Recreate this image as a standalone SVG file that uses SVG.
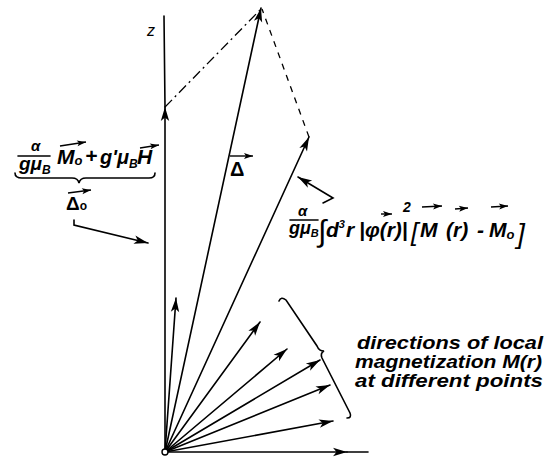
<svg xmlns="http://www.w3.org/2000/svg" width="549" height="457" viewBox="0 0 549 457">
<style>
.ln{stroke:#000;stroke-width:1.6;fill:none;stroke-linecap:round}
.th{stroke:#000;stroke-width:1.3;fill:none}
.t{font-family:"Liberation Sans",Arial,sans-serif;font-weight:bold;font-style:italic;fill:#000}
.up{font-style:normal}
.nw{font-weight:normal}
.sm{stroke:#000;stroke-width:1.4;fill:none}
</style>
<defs>
<marker id="ah" viewBox="-15 -5 16 10" refX="0" refY="0" markerWidth="16" markerHeight="10" markerUnits="userSpaceOnUse" orient="auto">
<path d="M0,0 L-14,-4.2 L-10.5,0 L-14,4.2 Z" fill="#000"/>
</marker>
<marker id="ahs" viewBox="-10 -4 11 8" refX="0" refY="0" markerWidth="11" markerHeight="8" markerUnits="userSpaceOnUse" orient="auto">
<path d="M0,0 L-9,-3 L-7,0 L-9,3 Z" fill="#000"/>
</marker>
</defs>
<rect width="549" height="457" fill="#fff"/>
<g id="connectors">
<line class="ln" x1="165" y1="452" x2="165" y2="107" marker-end="url(#ah)"/>
<line class="ln" x1="165" y1="107" x2="164" y2="16"/>
<line class="ln" x1="165" y1="452" x2="347" y2="452" marker-end="url(#ah)"/>
<line class="ln" x1="347" y1="452" x2="368" y2="452"/>
<line class="ln" x1="165" y1="452" x2="261" y2="8" marker-end="url(#ah)"/>
<line class="ln" x1="165" y1="452" x2="309" y2="137" marker-end="url(#ah)"/>
<line class="th" x1="165" y1="107" x2="261" y2="9" stroke-dasharray="10 4 2 4"/>
<line class="th" x1="309" y1="137" x2="262" y2="9" stroke-dasharray="6 6"/>
<line class="ln" x1="165" y1="452" x2="176" y2="298" marker-end="url(#ah)"/>
<line class="ln" x1="165" y1="452" x2="260" y2="322" marker-end="url(#ah)"/>
<line class="ln" x1="165" y1="452" x2="287" y2="349" marker-end="url(#ah)"/>
<line class="ln" x1="165" y1="452" x2="320" y2="360" marker-end="url(#ah)"/>
<line class="ln" x1="165" y1="452" x2="330" y2="385" marker-end="url(#ah)"/>
<line class="ln" x1="165" y1="452" x2="333" y2="421" marker-end="url(#ah)"/>
<polyline class="ln" points="74,220 74,225 148,243" marker-end="url(#ah)"/>
<polyline class="ln" points="323,203 333,198 298,177" marker-end="url(#ah)"/>
</g>
<g id="origin"><circle cx="165" cy="452" r="3" fill="#fff" stroke="#000" stroke-width="1.4"/></g>
<g id="z-label"><text class="t nw" x="147" y="36" font-size="16">z</text></g>
<g id="delta-label">
<text class="t up" x="230" y="176" font-size="20">Δ</text>
<line class="sm" x1="230" y1="156" x2="253" y2="156" marker-end="url(#ahs)"/>
</g>
<g id="brace-right">
<path class="ln" d="M279,301 Q281,296 286,300 L317,346 Q319,351 324,351 Q320,353 322,358 L350,413 Q352,418 347,418"/>
</g>
<g id="label-local">
<text class="t" font-size="17.5" x="357" y="349" textLength="186" lengthAdjust="spacingAndGlyphs">directions of local</text>
<text class="t" font-size="17.5" x="355" y="368" textLength="187" lengthAdjust="spacingAndGlyphs">magnetization M(r)</text>
<text class="t" font-size="17.5" x="355" y="387" textLength="188" lengthAdjust="spacingAndGlyphs">at different points</text>
</g>
<g id="formula-left">
<text class="t" font-size="15" x="31" y="151">α</text>
<line class="ln" x1="18" y1="156" x2="50" y2="156"/>
<text class="t" font-size="19" x="19" y="170">gμ<tspan font-size="12" dy="4">B</tspan></text>
<text class="t" font-size="21" x="57" y="164">M<tspan font-size="13" dy="1">o</tspan></text>
<line class="sm" x1="60" y1="146" x2="86" y2="142" marker-end="url(#ahs)"/>
<text class="t" font-size="21" x="85" y="163">+</text>
<text class="t" font-size="20" x="100" y="164">g'μ<tspan font-size="12" dy="4">B</tspan></text>
<text class="t" font-size="21" x="137" y="164">H</text>
<line class="sm" x1="140" y1="148" x2="159" y2="145" marker-end="url(#ahs)"/>
<path class="ln" d="M15,173 Q15,178 22,178 L72,178 Q78,178 79,183 Q80,178 86,178 L149,178 Q155,178 155,173"/>
<text class="t up" font-size="19" x="66" y="210">Δ<tspan font-size="12">o</tspan></text>
<line class="sm" x1="68" y1="193" x2="91" y2="190" marker-end="url(#ahs)"/>
</g>
<g id="formula-right">
<text class="t" font-size="15" x="298" y="216">α</text>
<line class="ln" x1="290" y1="220" x2="318" y2="220"/>
<text class="t" font-size="18" x="289" y="234">gμ<tspan font-size="11" dy="3">B</tspan></text>
<text class="t nw" font-size="30" x="318" y="241">∫</text>
<text class="t" font-size="21" x="326" y="237">d<tspan font-size="11" dy="-9">3</tspan><tspan dy="9" dx="1">r</tspan></text>
<text class="t" font-size="21" x="359" y="237">|φ(r)|</text>
<line class="sm" x1="381" y1="214" x2="392" y2="214" marker-end="url(#ahs)"/>
<text class="t" font-size="14" x="403" y="212">2</text>
<text class="t nw" font-size="26" x="411" y="241">[</text>
<text class="t" font-size="21" x="420" y="237">M</text>
<line class="sm" x1="422" y1="207" x2="442" y2="206" marker-end="url(#ahs)"/>
<text class="t" font-size="21" x="446" y="237">(r)</text>
<line class="sm" x1="455" y1="209" x2="468" y2="208" marker-end="url(#ahs)"/>
<text class="t" font-size="21" x="477" y="237">-</text>
<text class="t" font-size="21" x="489" y="237">M<tspan font-size="13" dy="2">o</tspan></text>
<line class="sm" x1="491" y1="207" x2="508" y2="206" marker-end="url(#ahs)"/>
<text class="t nw" font-size="28" x="517" y="243">]</text>
</g>
</svg>
